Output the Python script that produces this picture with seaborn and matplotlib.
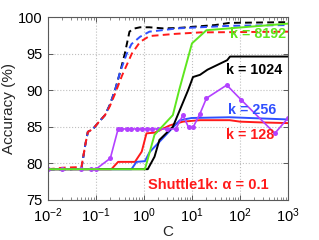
import matplotlib
matplotlib.use('Agg')
import matplotlib.pyplot as plt
import matplotlib.ticker as mticker
import seaborn as sns

# dashed curves
c_dash_k = [0.01, 0.03, 0.05, 0.06, 0.068, 0.087, 0.11, 0.155, 0.195, 0.25, 0.32, 0.4, 0.5, 0.6,
            0.83, 1.3, 2.5, 5, 12, 30, 60, 1000]
acc_dash_k = [79.2, 79.2, 79.3, 82.5, 84.3, 84.7, 85.5, 86.6, 88.0, 90.0, 92.5, 95.0, 98.0, 98.4,
              98.6, 98.6, 98.45, 98.5, 98.7, 98.9, 99.2, 99.3]
c_dash_b = [0.01, 0.03, 0.05, 0.06, 0.068, 0.087, 0.11, 0.155, 0.195, 0.25, 0.32, 0.44, 0.55,
            0.83, 1.3, 5, 30, 60, 1000]
acc_dash_b = [79.2, 79.2, 79.3, 82.5, 84.3, 84.7, 85.5, 86.6, 88.0, 90.0, 92.5, 95.0, 96.3,
              97.3, 98.0, 98.45, 98.7, 98.8, 98.9]
c_dash_r = [0.01, 0.015, 0.02, 0.05, 0.06, 0.068, 0.087, 0.11, 0.155, 0.195, 0.25, 0.35, 0.56,
            0.83, 1.3, 4.5, 15, 1000]
acc_dash_r = [79.2, 79.3, 79.4, 79.5, 82.5, 84.3, 84.7, 85.5, 86.6, 87.8, 89.5, 92.0, 95.0,
              96.6, 97.4, 97.7, 97.9, 98.0]

# solid curves
c_k8192 = [0.01, 1.0, 1.05, 1.66, 4.0, 5.4, 10, 20, 60, 1000]
acc_k8192 = [79.2, 79.2, 79.2, 83.9, 86.6, 90.0, 96.4, 98.2, 98.45, 99.1]
c_k1024 = [0.01, 1.2, 1.66, 2.1, 4.0, 8.3, 10.5, 14.7, 21, 54, 62, 1000]
acc_k1024 = [79.2, 79.2, 80.9, 83.2, 85.0, 90.0, 91.8, 92.1, 92.8, 94.1, 94.6, 94.6]
c_k256 = [0.01, 0.55, 0.70, 1.05, 1.3, 5.6, 9.8, 61, 1000]
acc_k256 = [79.2, 79.2, 80.2, 80.3, 81.5, 85.9, 86.2, 86.3, 86.0]
c_k128 = [0.01, 0.21, 0.29, 0.65, 0.9, 1.13, 1.67, 3.5, 6.5, 14.7, 61, 100, 260, 1000]
acc_k128 = [79.2, 79.2, 80.2, 80.2, 81.6, 84.1, 84.2, 85.2, 85.7, 85.9, 85.9, 85.7, 85.6, 85.5]

# purple curve with markers
c_purple = [0.01, 0.02, 0.05, 0.08, 0.1, 0.2, 0.29, 0.34, 0.44, 0.55, 0.71, 0.9, 1.14, 1.45,
            2.0, 3.0, 4.6, 6.5, 8.5, 10.5, 14.7, 20, 53, 105, 530, 1000]
acc_purple = [79.2, 79.2, 79.2, 79.2, 79.2, 80.7, 84.7, 84.7, 84.7, 84.7, 84.7, 84.7, 84.7, 84.7,
              84.7, 84.7, 84.7, 86.6, 84.9, 84.9, 86.8, 88.9, 90.7, 88.7, 84.1, 86.2]

labels = ['k = 8192', 'k = 1024', 'k = 256', 'k = 128']
label_c = [237, 195, 178, 162]
label_acc = [97.7, 92.8, 87.3, 83.9]
title_text = 'Shuttle1k: \u03b1 = 0.1'

green = '#5ee61e'
blue = '#3050ff'
red = '#ff1a1a'
purple = '#b341ff'

sns.set_style('ticks')
plt.rcParams['font.family'] = ['Liberation Sans', 'DejaVu Sans']
plt.rcParams['xtick.direction'] = 'in'
plt.rcParams['ytick.direction'] = 'in'

fig = plt.figure(figsize=(3.19, 2.40), dpi=100)
ax = fig.add_axes([0.150, 0.167, 0.753, 0.762])

dash = (3.5, 2.2)
sns.lineplot(x=c_dash_k, y=acc_dash_k, ax=ax, color='black', lw=1.4, linestyle=(0, dash))
sns.lineplot(x=c_dash_b, y=acc_dash_b, ax=ax, color=blue, lw=1.4, linestyle=(0, dash))
sns.lineplot(x=c_dash_r, y=acc_dash_r, ax=ax, color=red, lw=1.4, linestyle=(0, dash))

sns.lineplot(x=c_k128, y=acc_k128, ax=ax, color=red, lw=1.4)
sns.lineplot(x=c_k256, y=acc_k256, ax=ax, color=blue, lw=1.4)
sns.lineplot(x=c_k1024, y=acc_k1024, ax=ax, color='black', lw=1.4)
sns.lineplot(x=c_purple, y=acc_purple, ax=ax, color=purple, lw=1.2, marker='o',
             markersize=3.6, markeredgewidth=0, markeredgecolor=purple)
sns.lineplot(x=c_k8192, y=acc_k8192, ax=ax, color=green, lw=1.4)

ax.set_xscale('log')
ax.set_xlim(0.01, 1000)
ax.set_ylim(75, 100)
ax.set_yticks([75, 80, 85, 90, 95, 100])
ax.xaxis.set_major_locator(mticker.LogLocator(base=10, numticks=10))
ax.xaxis.set_minor_locator(mticker.LogLocator(base=10, subs=range(2, 10), numticks=20))
ax.grid(True, which='major', linestyle=':', color='0.75', lw=0.8)
ax.tick_params(which='both', top=True, right=True, labelsize=10.5, colors='0.35',
               labelcolor='black')
ax.tick_params(which='major', length=3.5, width=0.7)
ax.tick_params(which='minor', length=2, width=0.5)
ax.tick_params(axis='x', which='major', pad=5)
for s in ax.spines.values():
    s.set_color('0.35')
    s.set_linewidth(0.8)

ax.set_xlabel('C', fontsize=11, labelpad=0)
ax.set_ylabel('Accuracy (%)', fontsize=11, labelpad=2)

cols = [green, 'black', blue, red]
for txt, cx, cy, col in zip(labels, label_c, label_acc, cols):
    ax.text(cx, cy, txt, color=col, fontsize=10.3, fontweight='bold', ha='center', va='center')
ax.text(22.4, 77.05, title_text, color=red, fontsize=10.5, fontweight='bold',
        ha='center', va='center')

fig.savefig('out.png', dpi=100)
